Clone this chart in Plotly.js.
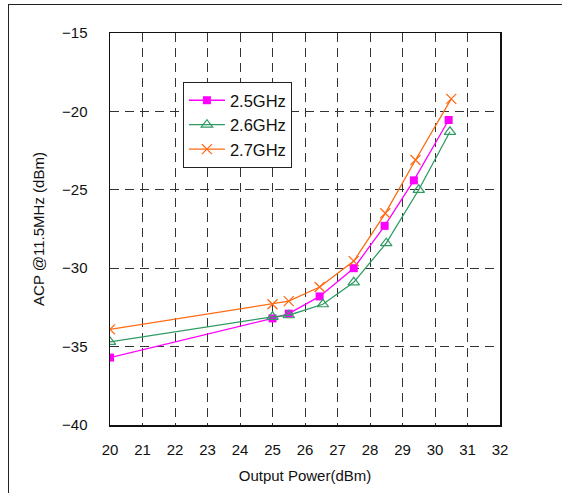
<!DOCTYPE html>
<html>
<head>
<meta charset="utf-8">
<script src="https://cdn.plot.ly/plotly-3.0.1.min.js"></script>
<style>
html,body{margin:0;padding:0;background:#fff;}
#wrap{position:relative;width:562px;height:493px;overflow:hidden;}
#frame{position:absolute;left:8px;top:4px;width:600px;height:600px;border-left:1.5px solid #222;border-top:1.5px solid #222;pointer-events:none;}
#chart{position:absolute;left:0;top:0;width:562px;height:493px;}
</style>
</head>
<body>
<div id="wrap"><div id="chart"></div><div id="frame"></div></div>
<script>
// Data
const series_names = ["2.5GHz", "2.6GHz", "2.7GHz"];
const x_25 = [20, 25, 25.5, 26.45, 27.5, 28.45, 29.35, 30.42];
const y_25 = [-35.7, -33.2, -32.9, -31.8, -30.0, -27.3, -24.4, -20.55];
const x_26 = [20, 25, 25.5, 26.55, 27.5, 28.5, 29.5, 30.46];
const y_26 = [-34.7, -33.1, -33.0, -32.3, -30.9, -28.4, -25.0, -21.3];
const x_27 = [20, 25, 25.5, 26.45, 27.5, 28.47, 29.4, 30.5];
const y_27 = [-33.9, -32.3, -32.1, -31.2, -29.55, -26.5, -23.1, -19.2];
const x_ticks = [20, 21, 22, 23, 24, 25, 26, 27, 28, 29, 30, 31, 32];
const y_ticks = [-40, -35, -30, -25, -20, -15];

const traces = [
  {x: x_25, y: y_25, name: series_names[0], mode: "lines+markers", legendgroup: "a",
   line: {color: "#FF00FF", width: 1.3},
   marker: {symbol: "square", size: 8, color: "#FF00FF"}},
  {x: x_26, y: y_26, name: series_names[1], mode: "lines+markers", legendgroup: "b",
   line: {color: "#2E9B63", width: 1.3},
   marker: {symbol: "triangle-up-open", size: 10, color: "#2E9B63", line: {width: 1.2}}},
  {x: x_27, y: y_27, name: series_names[2], mode: "lines+markers", legendgroup: "c",
   line: {color: "#FF6A13", width: 1.3},
   marker: {symbol: "x-thin-open", size: 10, color: "#FF6A13", line: {width: 1.3, color: "#FF6A13"}}}
];

const font = {family: "Liberation Sans, Arial, sans-serif", size: 15, color: "#111"};

const layout = {
  width: 562, height: 493,
  margin: {l: 110, r: 62, t: 33, b: 68},
  paper_bgcolor: "#fff", plot_bgcolor: "#fff",
  font: font,
  showlegend: true,
  legend: {
    x: 0.187, y: 0.875, xanchor: "left", yanchor: "top",
    bgcolor: "#fff", bordercolor: "#222", borderwidth: 1,
    font: {family: "Liberation Sans, Arial, sans-serif", size: 16.5, color: "#111"},
    itemwidth: 36, tracegroupgap: 0
  },
  xaxis: {
    range: [20, 32], tickvals: x_ticks, ticktext: x_ticks.map(String),
    showgrid: true, gridcolor: "#333", griddash: "9px,6px", gridwidth: 1,
    showline: true, linecolor: "#111", linewidth: 1.5, mirror: true,
    zeroline: false, ticks: "", ticklabelstandoff: 10,
    title: {text: "Output Power(dBm)", font: {size: 15}, standoff: 14}
  },
  yaxis: {
    range: [-40, -15], tickvals: y_ticks, ticktext: y_ticks.map(v => "\u2212" + Math.abs(v)),
    showgrid: true, gridcolor: "#333", griddash: "9px,6px", gridwidth: 1,
    showline: true, linecolor: "#111", linewidth: 1.5, mirror: true,
    zeroline: false, ticks: "", ticklabelstandoff: 18,
    title: {text: "ACP @11.5MHz (dBm)", font: {size: 15}, standoff: 14}
  }
};

Plotly.newPlot("chart", traces, layout, {staticPlot: true, displayModeBar: false});
</script>
</body>
</html>
